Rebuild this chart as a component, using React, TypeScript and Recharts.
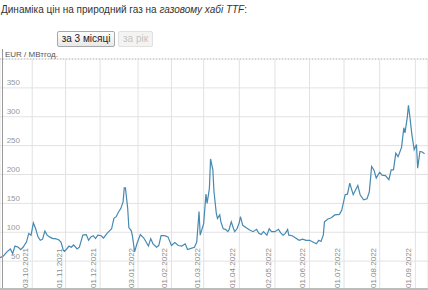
import React from "react";
import { LineChart, Line, XAxis, YAxis, CartesianGrid, ReferenceLine } from "recharts";

const dates: string[] = [
  "05.09.2021","08.09.2021","11.09.2021","14.09.2021","16.09.2021","18.09.2021","21.09.2021","23.09.2021","25.09.2021","28.09.2021","30.09.2021",
  "02.10.2021","04.10.2021","06.10.2021","08.10.2021","10.10.2021","12.10.2021","14.10.2021","16.10.2021","18.10.2021","21.10.2021","23.10.2021","26.10.2021","28.10.2021","30.10.2021","31.10.2021",
  "02.11.2021","04.11.2021","06.11.2021","08.11.2021","11.11.2021","13.11.2021","16.11.2021","19.11.2021","21.11.2021","23.11.2021","25.11.2021","27.11.2021","29.11.2021",
  "02.12.2021","04.12.2021","07.12.2021","09.12.2021","11.12.2021","13.12.2021","15.12.2021","17.12.2021","19.12.2021","21.12.2021","22.12.2021","23.12.2021","25.12.2021","26.12.2021","28.12.2021","29.12.2021","31.12.2021",
  "02.01.2022","05.01.2022","08.01.2022","10.01.2022","12.01.2022","14.01.2022","16.01.2022","19.01.2022","21.01.2022","23.01.2022","26.01.2022","29.01.2022",
  "01.02.2022","04.02.2022","07.02.2022","10.02.2022","13.02.2022","15.02.2022","18.02.2022","21.02.2022","23.02.2022","25.02.2022","26.02.2022",
  "01.03.2022","03.03.2022","04.03.2022","06.03.2022","07.03.2022","09.03.2022","10.03.2022","12.03.2022","13.03.2022","15.03.2022","16.03.2022","18.03.2022","20.03.2022","22.03.2022","23.03.2022","25.03.2022","27.03.2022","28.03.2022","30.03.2022",
  "01.04.2022","02.04.2022","04.04.2022","07.04.2022","10.04.2022","13.04.2022","16.04.2022","18.04.2022","20.04.2022","22.04.2022","25.04.2022","27.04.2022","29.04.2022",
  "02.05.2022","05.05.2022","07.05.2022","09.05.2022","11.05.2022","13.05.2022","14.05.2022","17.05.2022","20.05.2022","23.05.2022","26.05.2022","29.05.2022",
  "01.06.2022","04.06.2022","07.06.2022","09.06.2022","11.06.2022","13.06.2022","14.06.2022","17.06.2022","20.06.2022","23.06.2022","27.06.2022","29.06.2022",
  "02.07.2022","04.07.2022","06.07.2022","09.07.2022","11.07.2022","13.07.2022","15.07.2022","18.07.2022","21.07.2022","23.07.2022","25.07.2022","27.07.2022","29.07.2022",
  "01.08.2022","03.08.2022","06.08.2022","09.08.2022","11.08.2022","13.08.2022","15.08.2022","17.08.2022","20.08.2022","22.08.2022","23.08.2022","25.08.2022","26.08.2022","27.08.2022","29.08.2022","31.08.2022",
  "02.09.2022","03.09.2022","05.09.2022","07.09.2022","09.09.2022",
];

const prices: number[] = [
  56, 59, 66, 71, 63, 76, 74, 70, 74, 83, 98,
  95, 116, 106, 92, 86, 88, 102, 95, 92, 89, 89, 87, 83, 69, 67,
  71, 76, 74, 78, 71, 74, 95, 96, 86, 92, 94, 89, 95,
  94, 90, 98, 102, 106, 124, 127, 135, 141, 153, 177, 177, 141, 108, 103, 95, 66,
  80, 96, 90, 83, 76, 89, 80, 74, 77, 94, 94, 92,
  77, 82, 77, 76, 80, 70, 72, 74, 83, 136, 95,
  115, 166, 150, 176, 227, 208, 170, 133, 124, 130, 118, 106, 105, 101, 104, 118, 106, 101, 106,
  117, 127, 112, 108, 104, 101, 105, 98, 96, 101, 95, 106, 101,
  101, 105, 99, 95, 98, 105, 95, 94, 90, 86, 88, 86,
  86, 83, 80, 86, 84, 95, 118, 123, 125, 130, 131, 138,
  165, 166, 185, 165, 173, 181, 165, 156, 158, 170, 214, 208, 194,
  204, 199, 198, 191, 208, 208, 237, 231, 247, 281, 272, 299, 320, 304, 269, 243,
  252, 211, 240, 239, 236,
];

const tickDates: string[] = [
  "03.10.2021","01.11.2021","01.12.2021","03.01.2022","01.02.2022","01.03.2022",
  "01.04.2022","02.05.2022","01.06.2022","01.07.2022","01.08.2022","01.09.2022",
];

const yTicks: number[] = [50, 100, 150, 200, 250, 300, 350];
const domainStart = "05.09.2021";
const domainEnd = "12.09.2022";

const parse = (s: string) => {
  const [d, m, y] = s.split(".").map(Number);
  return Date.UTC(y, m - 1, d);
};
const fmt = (t: number) => {
  const dt = new Date(t);
  const dd = String(dt.getUTCDate()).padStart(2, "0");
  const mm = String(dt.getUTCMonth() + 1).padStart(2, "0");
  return `${dd}.${mm}.${dt.getUTCFullYear()}`;
};

const data = dates.map((d, i) => ({ t: parse(d), v: prices[i] }));
const xTicks = tickDates.map(parse);

const FONT = "Arial, 'Liberation Sans', sans-serif";

const renderXTick = (props: any) => {
  const { x, payload } = props;
  return (
    <text
      key={`xt-${payload.value}`}
      transform={`translate(${x - 4},288) rotate(-90)`}
      fontSize={8}
      fontFamily={FONT}
      fill="#8a8a8a"
      textAnchor="start"
    >
      {fmt(payload.value)}
    </text>
  );
};

const renderYTick = (props: any) => {
  const { y, payload } = props;
  return (
    <text key={`yt-${payload.value}`} x={20} y={y - 2.5} fontSize={8} fontFamily={FONT} fill="#999" textAnchor="end">
      {payload.value}
    </text>
  );
};

export default function App() {
  return (
    <div style={{ position: "absolute", left: 0, top: 0, width: 428, height: 290, background: "#fff", fontFamily: FONT, overflow: "hidden" }}>
      <div style={{ position: "absolute", left: 0, top: 0 }}>
        <LineChart width={428} height={290} data={data} margin={{ top: 59, right: 0, bottom: 0, left: 0 }}>
          <CartesianGrid stroke="#e2e2e2" strokeWidth={1} />
          <XAxis
            dataKey="t"
            type="number"
            scale="time"
            domain={[parse(domainStart), parse(domainEnd)]}
            ticks={xTicks}
            interval={0}
            mirror
            axisLine={false}
            tickLine={false}
            tick={renderXTick}
            allowDataOverflow
          />
          <YAxis
            type="number"
            domain={[0, 400]}
            ticks={yTicks}
            interval={0}
            mirror
            axisLine={false}
            tickLine={false}
            tick={renderYTick}
            allowDataOverflow
          />
          <ReferenceLine y={400} stroke="#bbb" strokeDasharray="1 2" />
          <Line
            type="linear"
            dataKey="v"
            stroke="#4689b2"
            strokeWidth={1.2}
            dot={false}
            isAnimationActive={false}
          />
        </LineChart>
      </div>
      <div style={{ position: "absolute", left: 1, top: 4, fontSize: 10, lineHeight: "12px", color: "#333", whiteSpace: "nowrap" }}>
        Динаміка цін на природний газ на <i>газовому хабі TTF</i>:
      </div>
      <div style={{ position: "absolute", left: 57, top: 31, width: 56, height: 14, border: "1px solid #a8a8a8", borderRadius: 2, background: "linear-gradient(#fdfdfd,#e8e8e8)", fontSize: 10, lineHeight: "14px", textAlign: "center", color: "#222" }}>
        за 3 місяці
      </div>
      <div style={{ position: "absolute", left: 118, top: 31, width: 33, height: 14, border: "1px solid #e0e0e0", borderRadius: 2, background: "#f3f3f3", fontSize: 10, lineHeight: "14px", textAlign: "center", color: "#c4c4c4" }}>
        за рік
      </div>
      <div style={{ position: "absolute", left: 5, top: 50, fontSize: 8, lineHeight: "9px", color: "#555", whiteSpace: "nowrap" }}>
        EUR / МВтгод.
      </div>
      <div style={{ position: "absolute", left: 2, top: 49, width: 1, height: 241, background: "#999" }} />
      <div style={{ position: "absolute", left: 0, top: 288, width: 428, height: 2, background: "#bdbdbd" }} />
    </div>
  );
}
